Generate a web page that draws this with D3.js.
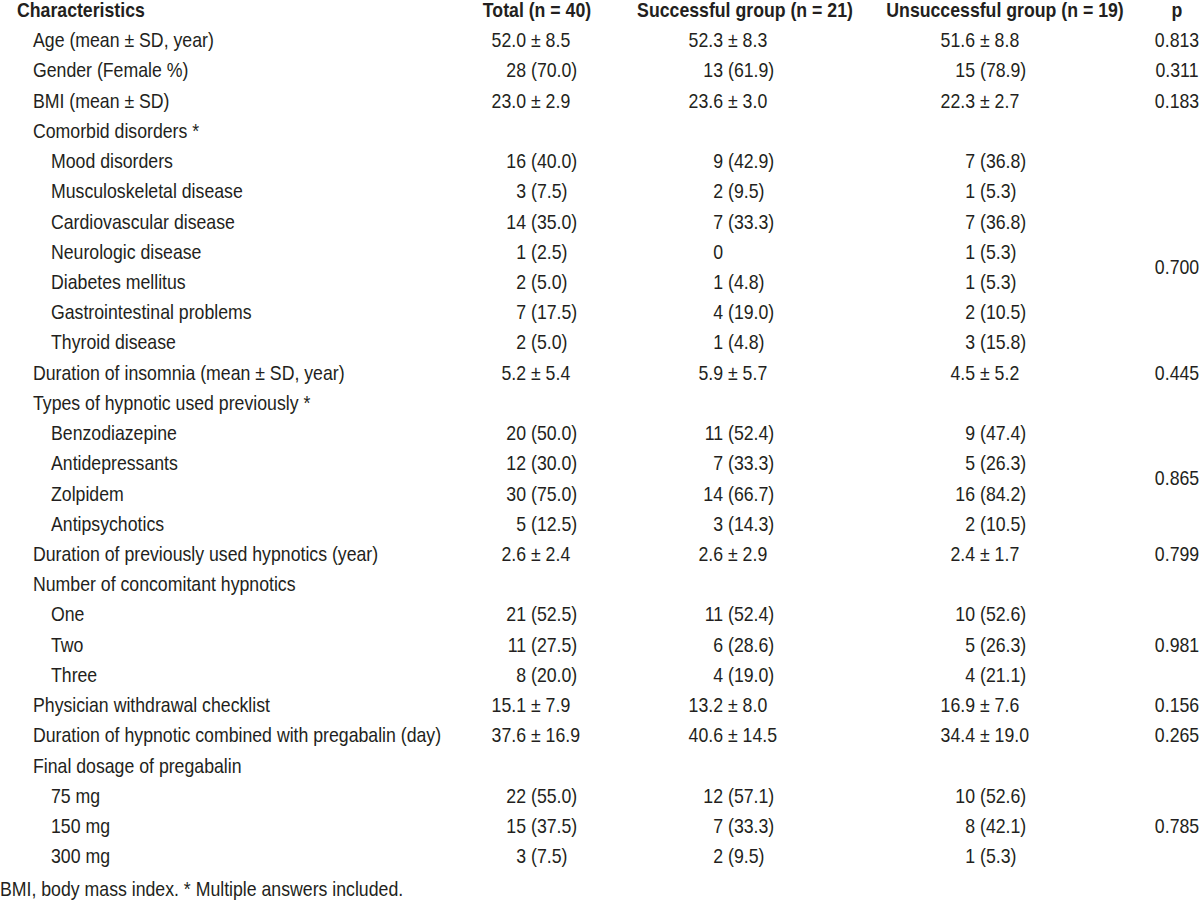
<!DOCTYPE html>
<html>
<head>
<meta charset="utf-8">
<script src="https://cdn.jsdelivr.net/npm/d3@7"></script>
<style>
  html, body { margin: 0; padding: 0; background: #fff; }
  svg text { font-family: "Liberation Sans", Arial, sans-serif; fill: #231f20; }
</style>
</head>
<body>
<div id="chart"></div>
<script>

// column headers
var headers = ['Characteristics', 'Total (n = 40)', 'Successful group (n = 21)', 'Unsuccessful group (n = 19)', 'p'];

// row labels, level 1 = main item, level 2 = sub item
var labels = [
  'Age (mean ± SD, year)', 'Gender (Female %)', 'BMI (mean ± SD)', 'Comorbid disorders *',
  'Mood disorders', 'Musculoskeletal disease', 'Cardiovascular disease', 'Neurologic disease',
  'Diabetes mellitus', 'Gastrointestinal problems', 'Thyroid disease',
  'Duration of insomnia (mean ± SD, year)', 'Types of hypnotic used previously *',
  'Benzodiazepine', 'Antidepressants', 'Zolpidem', 'Antipsychotics',
  'Duration of previously used hypnotics (year)', 'Number of concomitant hypnotics',
  'One', 'Two', 'Three', 'Physician withdrawal checklist',
  'Duration of hypnotic combined with pregabalin (day)', 'Final dosage of pregabalin',
  '75 mg', '150 mg', '300 mg'
];
var levels = [1,1,1,1, 2,2,2,2,2,2,2, 1,1, 2,2,2,2, 1,1, 2,2,2, 1,1,1, 2,2,2];

var totalVals = [
  '52.0 ± 8.5', '28 (70.0)', '23.0 ± 2.9', '',
  '16 (40.0)', '3 (7.5)', '14 (35.0)', '1 (2.5)', '2 (5.0)', '7 (17.5)', '2 (5.0)',
  '5.2 ± 5.4', '',
  '20 (50.0)', '12 (30.0)', '30 (75.0)', '5 (12.5)',
  '2.6 ± 2.4', '',
  '21 (52.5)', '11 (27.5)', '8 (20.0)', '15.1 ± 7.9', '37.6 ± 16.9', '',
  '22 (55.0)', '15 (37.5)', '3 (7.5)'
];
var successVals = [
  '52.3 ± 8.3', '13 (61.9)', '23.6 ± 3.0', '',
  '9 (42.9)', '2 (9.5)', '7 (33.3)', '0', '1 (4.8)', '4 (19.0)', '1 (4.8)',
  '5.9 ± 5.7', '',
  '11 (52.4)', '7 (33.3)', '14 (66.7)', '3 (14.3)',
  '2.6 ± 2.9', '',
  '11 (52.4)', '6 (28.6)', '4 (19.0)', '13.2 ± 8.0', '40.6 ± 14.5', '',
  '12 (57.1)', '7 (33.3)', '2 (9.5)'
];
var unsuccessVals = [
  '51.6 ± 8.8', '15 (78.9)', '22.3 ± 2.7', '',
  '7 (36.8)', '1 (5.3)', '7 (36.8)', '1 (5.3)', '1 (5.3)', '2 (10.5)', '3 (15.8)',
  '4.5 ± 5.2', '',
  '9 (47.4)', '5 (26.3)', '16 (84.2)', '2 (10.5)',
  '2.4 ± 1.7', '',
  '10 (52.6)', '5 (26.3)', '4 (21.1)', '16.9 ± 7.6', '34.4 ± 19.0', '',
  '10 (52.6)', '8 (42.1)', '1 (5.3)'
];

// p values with the first and last row they sit against
var pValues = ['0.813', '0.311', '0.183', '0.700', '0.445', '0.865', '0.799', '0.981', '0.156', '0.265', '0.785'];
var pFirst  = [0, 1, 2, 4, 11, 13, 17, 19, 22, 23, 25];
var pLast   = [0, 1, 2, 11, 11, 16, 17, 21, 22, 23, 27];

var footnote = 'BMI, body mass index. * Multiple answers included.';

var width = 1200, height = 909;
var fontSize = 20;
var squeeze = 0.885;   // condensed look of the original typeface

var svg = d3.select('#chart').append('svg')
    .attr('width', width)
    .attr('height', height);

// row centre positions
var y = d3.scaleLinear().domain([0, labels.length - 1]).range([40, 856]);
var base = function(c){ return c + fontSize*0.36; };

var indent = d3.scaleOrdinal().domain([1, 2]).range([33, 51]);
// split point (the "(" or "±") of each value column
var anchors = [531, 728, 980];
var pCenter = 1177;

// put a text at x, y squeezed horizontally
var place = function(sel, fx, fy){
  sel.attr('transform', function(d, i){
    return 'translate(' + fx(d, i) + ',' + fy(d, i) + ') scale(' + squeeze + ',1)';
  })
  .style('font-size', fontSize + 'px');
};

////////////////////////////
// Header                 //
////////////////////////////

var headerX = [17, 537, 745, 1005, pCenter];
svg.append('g').selectAll('text')
    .data(headers)
  .enter().append('text')
    .attr('text-anchor', function(d, i){ return i === 0 ? 'start' : 'middle'; })
    .style('font-weight', 'bold')
    .text(function(d){ return d; })
    .call(place, function(d, i){ return headerX[i]; }, function(){ return base(10); });

////////////////////////////
// Row labels             //
////////////////////////////

svg.append('g').selectAll('text')
    .data(labels)
  .enter().append('text')
    .text(function(d){ return d; })
    .call(place, function(d, i){ return indent(levels[i]); }, function(d, i){ return base(y(i)); });

////////////////////////////
// Value columns          //
////////////////////////////

var splitVal = function(v){
  var k = v.indexOf(' ');
  if (k < 0) return [v, ''];
  return [v.slice(0, k), v.slice(k + 1)];
};

[totalVals, successVals, unsuccessVals].forEach(function(col, c){
  var g = svg.append('g');
  var cells = col.map(function(v, i){ return {v: v, i: i}; }).filter(function(d){ return d.v !== ''; });

  g.selectAll('text.left')
      .data(cells)
    .enter().append('text')
      .attr('class', 'left')
      .attr('text-anchor', 'end')
      .text(function(d){ return splitVal(d.v)[0]; })
      .call(place, function(){ return anchors[c] - 5; }, function(d){ return base(y(d.i)); });

  g.selectAll('text.right')
      .data(cells.filter(function(d){ return splitVal(d.v)[1] !== ''; }))
    .enter().append('text')
      .attr('class', 'right')
      .text(function(d){ return splitVal(d.v)[1]; })
      .call(place, function(){ return anchors[c]; }, function(d){ return base(y(d.i)); });
});

////////////////////////////
// p values               //
////////////////////////////

svg.append('g').selectAll('text')
    .data(pValues)
  .enter().append('text')
    .attr('text-anchor', 'middle')
    .text(function(d){ return d; })
    .call(place, function(){ return pCenter; }, function(d, i){ return base(y((pFirst[i] + pLast[i]) / 2)); });

svg.append('text')
    .text(footnote)
    .call(place, function(){ return 0; }, function(){ return base(889); });

</script>
</body>
</html>
